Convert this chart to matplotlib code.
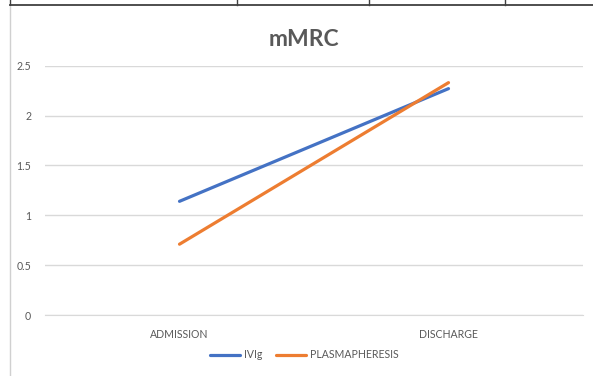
import matplotlib
matplotlib.use("Agg")
import matplotlib.pyplot as plt
from matplotlib.lines import Line2D

# mMRC score by treatment group
categories = ["ADMISSION", "DISCHARGE"]
ivig = [1.14, 2.27]
plasmapheresis = [0.71, 2.33]
yticks = [0, 0.5, 1, 1.5, 2, 2.5]
ytick_labels = ["0", "0.5", "1", "1.5", "2", "2.5"]

BLUE = "#4472C4"
ORANGE = "#ED7D31"
GRID = "#D9D9D9"
TEXT = "#595959"

plt.rcParams["font.family"] = ["Lato", "DejaVu Sans"]

W, H = 593, 376
fig = plt.figure(figsize=(W / 100, H / 100), dpi=100)
ax = fig.add_axes([45 / W, 1 - 315 / H, (583 - 45) / W, (315 - 65.7) / H])

x = range(len(categories))
ax.plot(x, ivig, color=BLUE, lw=2.3, solid_capstyle="round", label="IVIg")
ax.plot(x, plasmapheresis, color=ORANGE, lw=2.3, solid_capstyle="round",
        label="PLASMAPHERESIS")

ax.set_xlim(-0.5, len(categories) - 0.5)
ax.set_ylim(0, 2.5)
ax.set_yticks(yticks)
ax.set_yticklabels(ytick_labels)
ax.set_xticks(list(x))
ax.set_xticklabels(categories)
ax.yaxis.grid(True, color=GRID, lw=1)
ax.set_axisbelow(True)
for side in ["top", "right", "left"]:
    ax.spines[side].set_visible(False)
ax.spines["bottom"].set_color(GRID)
ax.tick_params(axis="both", length=0, labelsize=7.6, colors=TEXT, pad=10)
ax.tick_params(axis="x", pad=10)

fig.text(304 / W, 1 - 40 / H, "mMRC", ha="center", va="center",
         fontsize=16.5, fontweight="bold", color=TEXT)

ax.legend(loc="center", bbox_to_anchor=(304 / W, 1 - 355 / H),
          bbox_transform=fig.transFigure, ncol=2, frameon=False,
          fontsize=7.6, labelcolor=TEXT, handlelength=2.9, handletextpad=0.3,
          columnspacing=1.3)

# chart frame and the table edge above it
def px_line(xs, ys, color, lw):
    fig.add_artist(Line2D([v / W for v in xs], [1 - v / H for v in ys],
                          color=color, lw=lw, transform=fig.transFigure))

px_line([9.5, 9.5], [7, H], "#D0D0D0", 1)
px_line([9.5, W], [4.5, 4.5], "#404040", 1.3)
for xv in [9.5, 237, 369, 505]:
    px_line([xv, xv], [0, 4.5], "#404040", 1)

fig.savefig("out.png", dpi=100, facecolor="white")
